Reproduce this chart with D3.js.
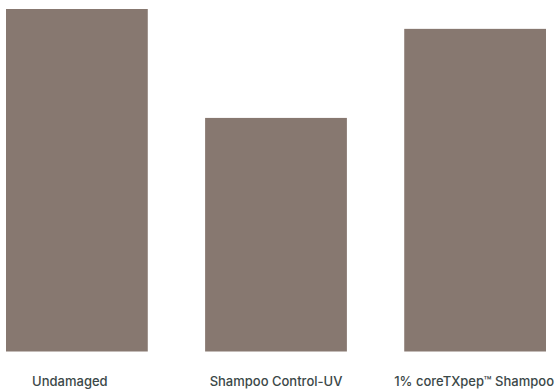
<!DOCTYPE html>
<html>
<head>
<meta charset="utf-8">
<script src="https://cdn.jsdelivr.net/npm/d3@7"></script>
<style>
  html, body { margin: 0; padding: 0; background: #ffffff; }
  svg { display: block; }
</style>
</head>
<body>
<svg id="chart" width="555" height="390"></svg>
<script>
// ---- data ----
const categories = ["Undamaged", "Shampoo Control-UV", "1% coreTXpep\u2122 Shampoo"];
const values = [100, 68.2, 94.2];

// ---- layout ----
const W = 555, H = 390;
const plotLeft = 6, plotRight = 546, plotTop = 9, plotBase = 351.5;
const labelY = 385.5;
const labelDx = [-7, 0, -1];

const svg = d3.select("#chart");

const x = d3.scaleBand()
  .domain(categories)
  .range([plotLeft, plotRight])
  .paddingInner(0.288)
  .paddingOuter(0);

const y = d3.scaleLinear()
  .domain([0, 100])
  .range([plotBase, plotTop]);

svg.append("g")
  .selectAll("rect")
  .data(categories)
  .join("rect")
  .attr("x", d => x(d))
  .attr("width", x.bandwidth())
  .attr("y", (d, i) => y(values[i]))
  .attr("height", (d, i) => y(0) - y(values[i]))
  .attr("fill", "#877870");

svg.append("g")
  .selectAll("text")
  .data(categories)
  .join("text")
  .attr("x", (d, i) => x(d) + x.bandwidth() / 2 + labelDx[i])
  .attr("y", labelY)
  .attr("text-anchor", "middle")
  .attr("font-family", "Inter, 'Noto Sans', sans-serif")
  .attr("font-size", 13)
  .attr("font-weight", 500)
  .attr("fill", "#3b4848")
  .text(d => d);
</script>
</body>
</html>
